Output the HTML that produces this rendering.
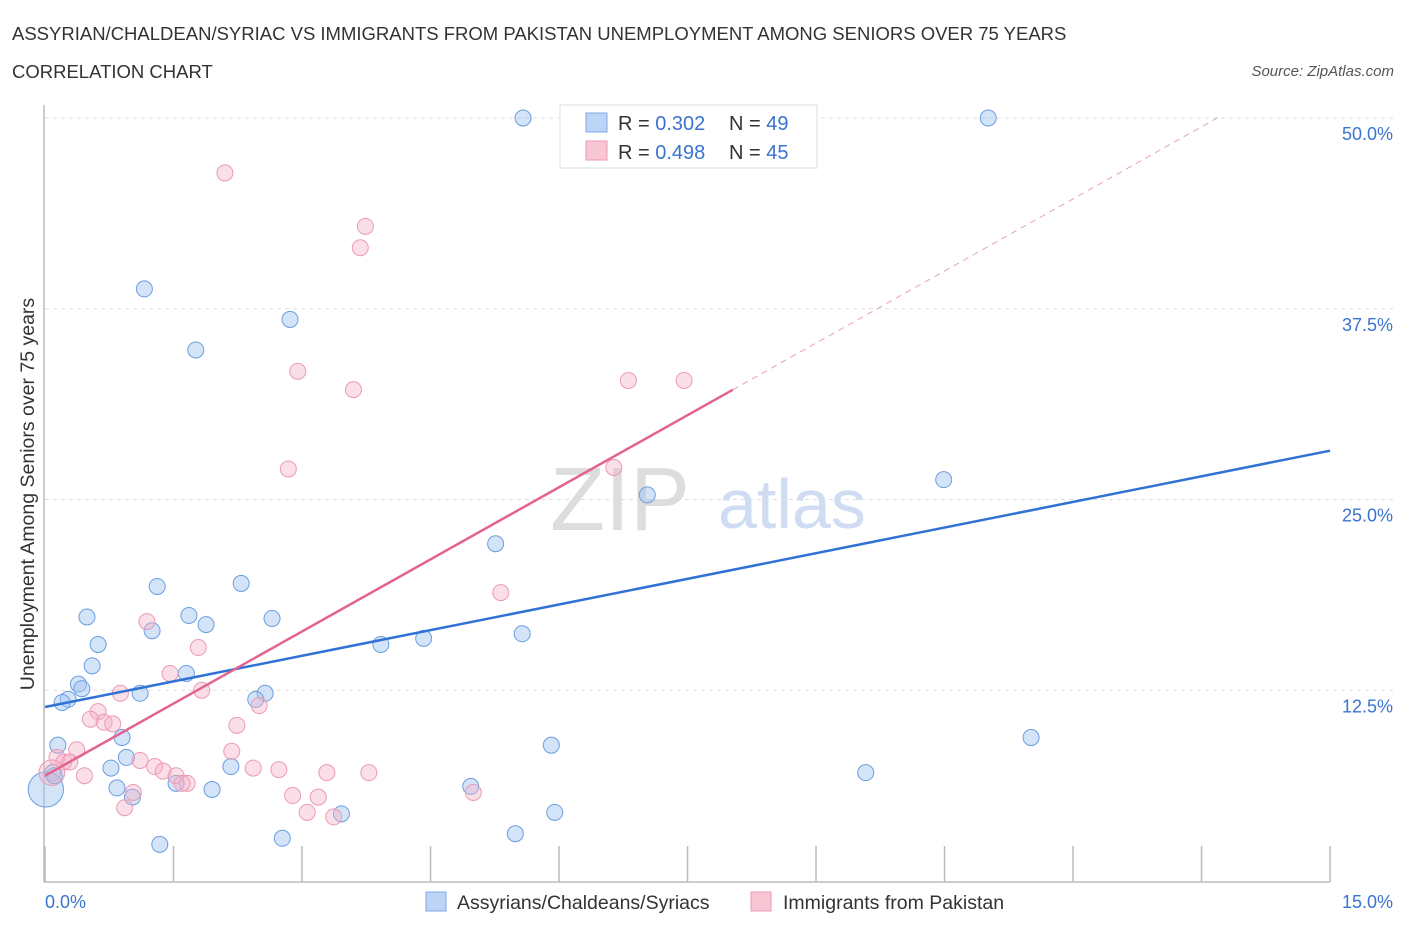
<!DOCTYPE html>
<html><head><meta charset="utf-8"><style>
body{margin:0;background:#fff;font-family:"Liberation Sans",sans-serif;}
svg text{font-family:"Liberation Sans",sans-serif;}
</style></head><body>
<svg id="chart" width="1406" height="930" xmlns="http://www.w3.org/2000/svg">
<text x="12" y="40" font-size="18.5" fill="#333">ASSYRIAN/CHALDEAN/SYRIAC VS IMMIGRANTS FROM PAKISTAN UNEMPLOYMENT AMONG SENIORS OVER 75 YEARS</text>
<text x="12" y="78" font-size="18.5" fill="#333">CORRELATION CHART</text>
<text x="1394" y="76" font-size="15" fill="#555" font-style="italic" text-anchor="end">Source: ZipAtlas.com</text>
<g id="grid"></g>
<text x="690" y="530" font-size="90" fill="#ddd" text-anchor="end" font-family="Liberation Serif">ZIP</text>
<text x="718" y="528" font-size="70" fill="#cfdcf2">atlas</text>
<g id="axes"></g>
<g id="marks"></g>
<text transform="translate(34,494) rotate(-90)" font-size="19.5" fill="#333" text-anchor="middle">Unemployment Among Seniors over 75 years</text>
<g>
<rect x="560" y="105" width="257" height="63" fill="#fff" stroke="#ddd"/>
<rect x="586" y="113" width="21" height="19" fill="#bcd4f5" stroke="#7ea8e4"/>
<rect x="586" y="141" width="21" height="19" fill="#f8c6d5" stroke="#ea9ab4"/>
<text x="618" y="130" font-size="20" fill="#333">R = <tspan fill="#3a74d0">0.302</tspan></text>
<text x="729" y="130" font-size="20" fill="#333">N = <tspan fill="#3a74d0">49</tspan></text>
<text x="618" y="159" font-size="20" fill="#333">R = <tspan fill="#3a74d0">0.498</tspan></text>
<text x="729" y="159" font-size="20" fill="#333">N = <tspan fill="#3a74d0">45</tspan></text>
</g>
<g>
<rect x="426" y="892" width="20" height="19" fill="#bcd4f5" stroke="#7ea8e4"/>
<text x="457" y="909" font-size="19.5" fill="#333">Assyrians/Chaldeans/Syriacs</text>
<rect x="751" y="892" width="20" height="19" fill="#f8c6d5" stroke="#ea9ab4"/>
<text x="783" y="909" font-size="19.5" fill="#333">Immigrants from Pakistan</text>
</g>
</svg>
<script>
const yTicks=[12.5,25,37.5,50];
const yTickLabels=["12.5%","25.0%","37.5%","50.0%"];
const xTicks=[0,1.5,3,4.5,6,7.5,9,10.5,12,13.5,15];
const blueX=[5.58,11.01,1.16,2.86,1.76,10.49,7.03,5.26,1.31,2.29,0.49,1.68,2.65,1.88,1.25,5.57,0.62,3.92,4.42,0.55,1.65,0.39,0.43,1.11,2.57,2.46,0.27,0.20,0.90,11.51,5.91,0.15,0.95,0.77,2.17,9.58,0.09,0.01,0.84,1.53,1.95,4.97,1.02,3.46,5.95,2.77,5.49,1.34,0.11];
const blueY=[50.0,50.0,38.8,36.8,34.8,26.3,25.3,22.1,19.3,19.5,17.3,17.4,17.2,16.8,16.4,16.2,15.5,15.5,15.9,14.1,13.6,12.9,12.6,12.3,12.3,11.9,11.9,11.7,9.4,9.4,8.9,8.9,8.1,7.4,7.5,7.1,7.1,6.0,6.1,6.4,6.0,6.2,5.5,4.4,4.5,2.8,3.1,2.4,6.9];
const blueSize=[1,1,1,1,1,1,1,1,1,1,1,1,1,1,1,1,1,1,1,1,1,1,1,1,1,1,1,1,1,1,1,1,1,1,1,1,1,2.2,1,1,1,1,1,1,1,1,1,1,1];
const pinkX=[2.10,3.74,3.68,2.95,3.60,6.81,7.46,2.84,6.64,5.32,1.19,1.79,1.46,0.88,1.83,2.50,2.24,0.62,0.53,0.69,0.79,0.37,2.18,0.14,0.22,0.29,1.11,1.28,1.38,2.43,2.73,3.78,3.29,0.46,0.08,1.53,1.66,1.60,1.03,2.89,3.19,5.00,0.93,3.06,3.37];
const pinkY=[46.4,42.9,41.5,33.4,32.2,32.8,32.8,27.0,27.1,18.9,17.0,15.3,13.6,12.3,12.5,11.5,10.2,11.1,10.6,10.4,10.3,8.6,8.5,8.1,7.8,7.8,7.9,7.5,7.2,7.4,7.3,7.1,7.1,6.9,7.1,6.9,6.4,6.4,5.8,5.6,5.5,5.8,4.8,4.5,4.2];
const pinkSize=[1,1,1,1,1,1,1,1,1,1,1,1,1,1,1,1,1,1,1,1,1,1,1,1,1,1,1,1,1,1,1,1,1,1,1.6,1,1,1,1,1,1,1,1,1,1];
const blueTrend=[11.4,28.2]; // y at x=0 and x=15
const pinkTrend=[6.9,3.15,8.03,13.7]; // intercept, slope, solid end, dashed end
const NS="http://www.w3.org/2000/svg";
const X=v=>45+v*85.67, Y=v=>881-v*15.26;
function mk(p,t,a){const e=document.createElementNS(NS,t);for(const k in a)e.setAttribute(k,a[k]);p.appendChild(e);return e;}
const grid=document.getElementById('grid'),axes=document.getElementById('axes'),marks=document.getElementById('marks');
yTicks.forEach((t,i)=>{
 const l=mk(grid,'line',{x1:45,x2:1395,y1:Y(t),y2:Y(t),stroke:'#ddd','stroke-dasharray':'4,4'});
 
 
 const tx=mk(axes,'text',{x:1393,y:Y(t)+22,'font-size':18,fill:'#3a74d0','text-anchor':'end'});
 tx.textContent=yTickLabels[i];
 
 
});
const ya=mk(axes,'line',{x1:44,x2:44,y1:105,y2:882,stroke:'#bbb','stroke-width':1.5});


const xa=mk(axes,'line',{x1:44,x2:1330,y1:882,y2:882,stroke:'#bbb','stroke-width':1.5});


xTicks.forEach(t=>{
 const l=mk(axes,'line',{x1:X(t),x2:X(t),y1:846,y2:882,stroke:'#bbb','stroke-width':1.5});
 
 
});
const x0=mk(axes,'text',{x:45,y:908,'font-size':18,fill:'#3a74d0'});x0.textContent='0.0%';


const x1=mk(axes,'text',{x:1393,y:908,'font-size':18,fill:'#3a74d0','text-anchor':'end'});x1.textContent='15.0%';


blueX.forEach((v,i)=>{
 const c=mk(marks,'circle',{cx:X(v),cy:Y(blueY[i]),r:8*blueSize[i],fill:'rgba(160,196,240,0.45)',stroke:'#6b9ee0','stroke-width':1});
 
 
});
pinkX.forEach((v,i)=>{
 const c=mk(marks,'circle',{cx:X(v),cy:Y(pinkY[i]),r:8*pinkSize[i],fill:'rgba(244,176,198,0.4)',stroke:'#eb9ab3','stroke-width':1});
 
 
});
const bl=mk(marks,'line',{x1:X(0),y1:Y(blueTrend[0]),x2:X(15),y2:Y(blueTrend[1]),stroke:'#2f72d4','stroke-width':2.5});


const pe=x=>pinkTrend[0]+pinkTrend[1]*x;
const pl=mk(marks,'line',{x1:X(0),y1:Y(pe(0)),x2:X(pinkTrend[2]),y2:Y(pe(pinkTrend[2])),stroke:'#e4628e','stroke-width':2.5});


const pd=mk(marks,'line',{x1:X(pinkTrend[2]),y1:Y(pe(pinkTrend[2])),x2:X(pinkTrend[3]),y2:Y(pe(pinkTrend[3])),stroke:'#e8a0b8','stroke-width':1,'stroke-dasharray':'6,5'});


</script>
</body></html>
